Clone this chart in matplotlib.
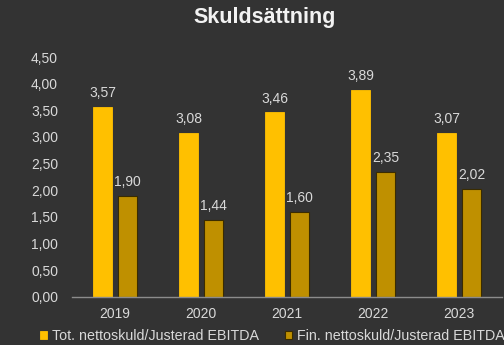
import matplotlib
matplotlib.use("Agg")
import matplotlib.pyplot as plt
import numpy as np

years = ["2019", "2020", "2021", "2022", "2023"]
tot_ratio = [3.57, 3.08, 3.46, 3.89, 3.07]
fin_ratio = [1.90, 1.44, 1.60, 2.35, 2.02]
series_names = ["Tot. nettoskuld/Justerad EBITDA", "Fin. nettoskuld/Justerad EBITDA"]
title = "Skuldsättning"

bg = "#333333"
text_col = "#D9D9D9"
col_tot = "#FFC000"
col_fin = "#BF9000"

plt.rcParams["font.family"] = ["Liberation Sans", "DejaVu Sans"]

fig = plt.figure(figsize=(5.04, 3.45), dpi=100, facecolor=bg)
ax = fig.add_axes([72 / 504, 1 - 297 / 345, 430 / 504, 240 / 345], facecolor=bg)

x = np.arange(len(years))
w = 0.22
off = 0.145
b1 = ax.bar(x - off, tot_ratio, w, color=col_tot, edgecolor=col_tot, linewidth=0.6,
            label=series_names[0], zorder=2)
b2 = ax.bar(x + off, fin_ratio, w, color=col_fin, edgecolor="#3a2c00", linewidth=0.8,
            label=series_names[1], zorder=2)

def fmt(v):
    return f"{v:.2f}".replace(".", ",")

for bars, vals in ((b1, tot_ratio), (b2, fin_ratio)):
    for r, v in zip(bars, vals):
        ax.annotate(fmt(v), (r.get_x() + r.get_width() / 2, v), xytext=(0, 5),
                    textcoords="offset points", ha="center", va="bottom",
                    color=text_col, fontsize=10)

ax.set_xlim(-0.5, len(years) - 0.5)
ax.set_ylim(0, 4.5)
ax.set_yticks(np.arange(0, 4.51, 0.5))
ax.set_yticklabels([fmt(v) for v in np.arange(0, 4.51, 0.5)])
ax.set_xticks(x)
ax.set_xticklabels(years)
ax.tick_params(axis="both", length=0, colors=text_col, labelsize=10)
ax.tick_params(axis="y", pad=10)
ax.tick_params(axis="x", pad=7)
for s in ("top", "right", "left"):
    ax.spines[s].set_visible(False)
ax.spines["bottom"].set_color("#8C8C8C")
ax.spines["bottom"].set_linewidth(1.0)

fig.text(265 / 504, 1 - 18 / 345, title, ha="center", va="center",
         color="#F2F2F2", fontsize=15.5, fontweight="bold")

leg = fig.legend(handles=[b1, b2], labels=series_names, loc="center",
                 bbox_to_anchor=(272 / 504, 1 - 336 / 345), ncol=2, frameon=False,
                 fontsize=10.3, handlelength=0.55, handleheight=0.55, handletextpad=0.3,
                 columnspacing=1.8, borderpad=0.1)
for t in leg.get_texts():
    t.set_color(text_col)

fig.savefig("out.png", dpi=100, facecolor=bg)
